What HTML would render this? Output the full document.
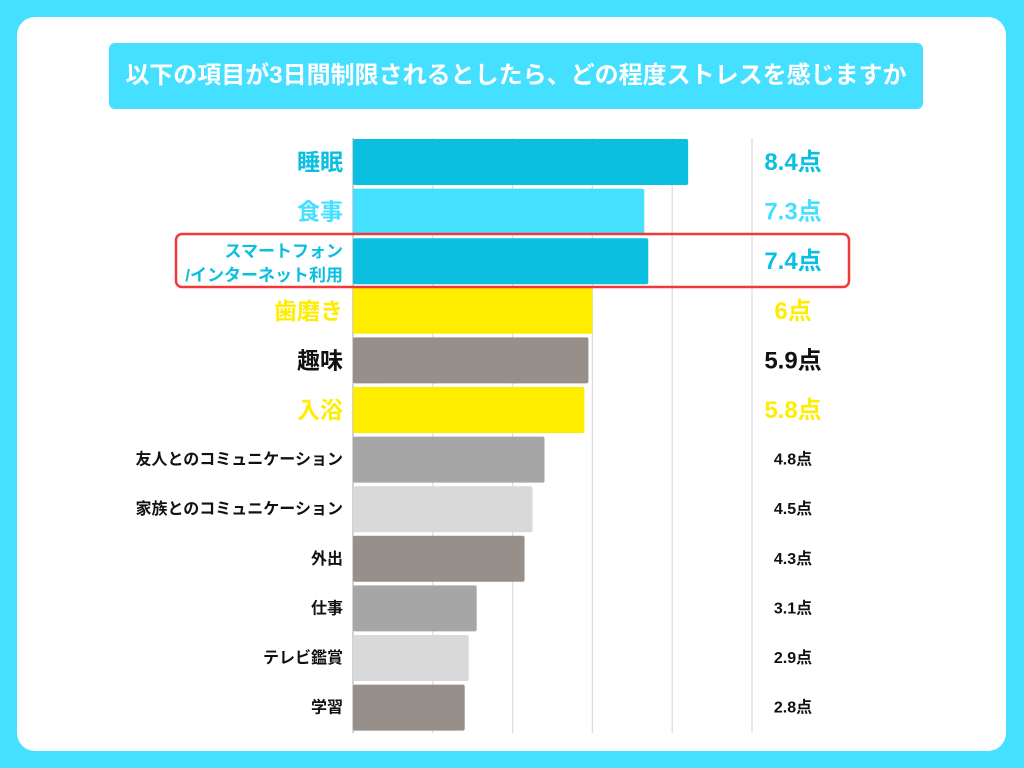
<!DOCTYPE html>
<html><head><meta charset="utf-8">
<style>
html,body{margin:0;padding:0}
body{width:1024px;height:768px;background:#45DFFF;position:relative;overflow:hidden;font-family:"Liberation Sans","Noto Sans CJK JP",sans-serif;font-weight:bold}
#card{position:absolute;left:17px;top:17px;width:989px;height:734px;background:#fff;border-radius:18px}
#title{position:absolute;left:109px;top:43px;width:814px;height:66px;background:#45DFFF;border-radius:6px;color:#fff;font-size:24px;line-height:66px;text-align:center;white-space:nowrap}
svg{position:absolute;left:0;top:0}
</style></head><body>
<div id="card"></div>
<div id="title">以下の項目が3日間制限されるとしたら、どの程度ストレスを感じますか</div>
<svg id="chart" width="1024" height="768"></svg>
<script>
const categories=["睡眠","食事","スマートフォン/インターネット利用","歯磨き","趣味","入浴","友人とのコミュニケーション","家族とのコミュニケーション","外出","仕事","テレビ鑑賞","学習"];
const values=[8.4,7.3,7.4,6,5.9,5.8,4.8,4.5,4.3,3.1,2.9,2.8];
const valueLabels=["8.4点","7.3点","7.4点","6点","5.9点","5.8点","4.8点","4.5点","4.3点","3.1点","2.9点","2.8点"];
const barColors=["#0BBFE0","#45DFFF","#0BBFE0","#FFED00","#968F8A","#FFED00","#A6A6A6","#D9D9D9","#968F8A","#A6A6A6","#D9D9D9","#968F8A"];
const labelColors=["#0BBFE0","#45DFFF","#0BBFE0","#FFED00","#111","#FFED00","#111","#111","#111","#111","#111","#111"];
const bigLabel=[1,1,1,1,1,1,0,0,0,0,0,0];
const gridTicks=[0,2,4,6,8,10];
const NS="http://www.w3.org/2000/svg";
const svg=document.getElementById('chart');
const x0=353,xScale=39.9,y0=138,pitch=49.6,bh=46;
const x=v=>x0+v*xScale;
const y=i=>y0+i*pitch+1;
function mk(t,a){const e=document.createElementNS(NS,t);for(const k in a)e.setAttribute(k,a[k]);svg.appendChild(e);return e;}
gridTicks.forEach((t,i)=>{
 const l=mk('line',{x1:x(t),x2:x(t),y1:y0,y2:733,stroke:i==0?'#bbb':'#ddd','stroke-width':1.3});
 
 
});
categories.forEach((c,i)=>{
 const r=mk('rect',{x:x0,y:y(i),width:x(values[i])-x0,height:bh,fill:barColors[i],rx:2});
 
 
 const cy=y(i)+bh/2;
 let t;
 if(c.indexOf('/')>0){
  t=mk('text',{x:343,y:cy-4,'text-anchor':'end','font-size':17,fill:labelColors[i],'font-weight':'bold'});
  const p=c.split('/');
  const s1=document.createElementNS(NS,'tspan');s1.textContent=p[0];s1.setAttribute('x',343);t.appendChild(s1);
  const s2=document.createElementNS(NS,'tspan');s2.textContent='/'+p[1];s2.setAttribute('x',343);s2.setAttribute('dy',24);t.appendChild(s2);
 } else {
  t=mk('text',{x:343,y:cy+(bigLabel[i]?8:5),'text-anchor':'end','font-size':bigLabel[i]?23:16,fill:labelColors[i],'font-weight':'bold'});
  t.textContent=c;
 }
 
 
 const v=mk('text',{x:793,y:cy+(bigLabel[i]?8:5),'text-anchor':'middle','font-size':bigLabel[i]?24:16,fill:labelColors[i],'font-weight':'bold'});
 v.textContent=valueLabels[i];
 
 
});
const hl=mk('rect',{x:176,y:234,width:673,height:53,rx:6,fill:'none',stroke:'#F03A3A','stroke-width':2.5});


</script>
</body></html>
